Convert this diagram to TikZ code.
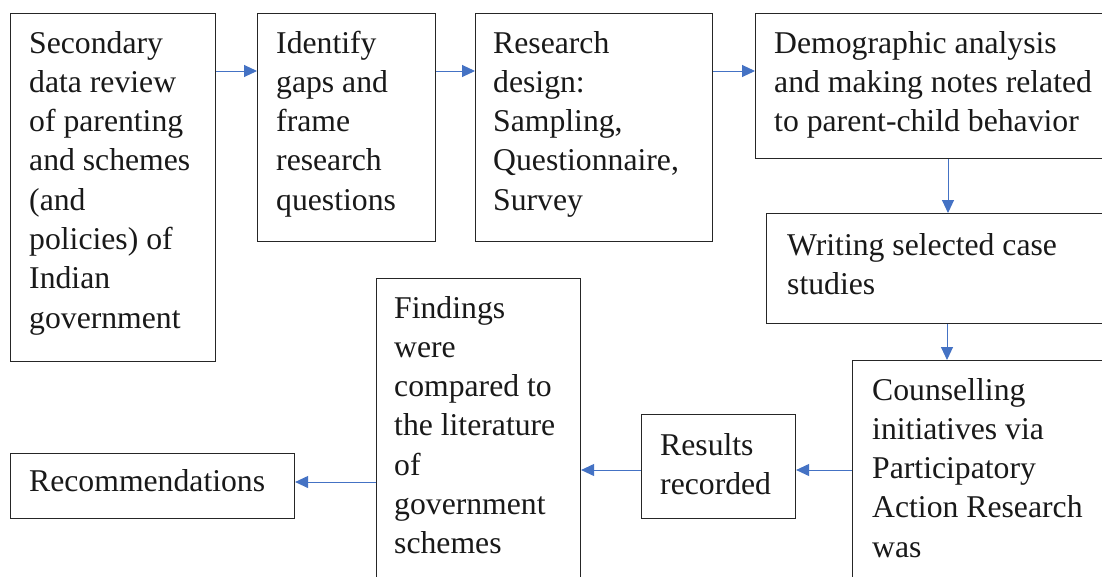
\documentclass[tikz,border=0pt]{standalone}
\usepackage{fontspec}
\IfFontExistsTF{LiberationSerif-Regular.ttf}
  {\setmainfont{LiberationSerif-Regular.ttf}\def\fsz{31.7}}
  {\def\fsz{29.5}}
\usetikzlibrary{arrows.meta}
\definecolor{arrowblue}{HTML}{4472C4}
\newcommand{\boxtext}[1]{\begin{tabular}[t]{@{}l@{}}#1\end{tabular}}
\begin{document}
\begin{tikzpicture}[x=1pt,y=1pt,
  box/.style={draw=black!85, line width=1.1pt, rectangle, inner sep=0pt, anchor=north west},
  txt/.style={anchor=base west, inner sep=0pt, text=black!90, font=\rmfamily\fontsize{\fsz}{39.3}\selectfont},
  arr/.style={draw=arrowblue, line width=1pt, -{Triangle[length=13pt,width=12pt]}}]
\useasboundingbox (0,0) rectangle (1102,-576);
\fill[white] (0,0) rectangle (1102,-576);
\clip (0,0) rectangle (1102,-576);

% boxes
\node[box, minimum width=205, minimum height=348] (b1) at (10,-13) {};
\node[box, minimum width=178, minimum height=228] (b2) at (257,-13) {};
\node[box, minimum width=237, minimum height=228] (b3) at (475,-13) {};
\node[box, minimum width=386, minimum height=145] (b4) at (755,-13) {};
\node[box, minimum width=362, minimum height=110] (b5) at (766,-213) {};
\node[box, minimum width=300, minimum height=260] (b6) at (852,-360) {};
\node[box, minimum width=154, minimum height=104] (b7) at (641,-414) {};
\node[box, minimum width=204, minimum height=330] (b8) at (376,-278) {};
\node[box, minimum width=284, minimum height=65] (b9) at (10,-453) {};

% texts
\node[txt] (t1) at (29,-53) {\boxtext{Secondary\\data review\\of parenting\\and schemes\\(and\\policies) of\\Indian\\government}};
\node[txt] (t2) at (276,-53) {\boxtext{Identify\\gaps and\\frame\\research\\questions}};
\node[txt] (t3) at (493,-53) {\boxtext{Research\\design:\\Sampling,\\Questionnaire,\\Survey}};
\node[txt] (t4) at (774,-53) {\boxtext{Demographic analysis\\and making notes related\\to parent-child behavior}};
\node[txt] (t5) at (787,-255) {\boxtext{Writing selected case\\studies}};
\node[txt] (t6) at (872,-400) {\boxtext{Counselling\\initiatives via\\Participatory\\Action Research\\was}};
\node[txt] (t7) at (660,-455) {\boxtext{Results\\recorded}};
\node[txt] (t8) at (394,-318) {\boxtext{Findings\\were\\compared to\\the literature\\of\\government\\schemes}};
\node[txt] (t9) at (29,-491) {\boxtext{Recommendations}};

% connector levels
\coordinate (r1) at (0,-71);
\coordinate (r2) at (0,-470);
\coordinate (r3) at (0,-482);
\coordinate (c1) at (948,0);
\coordinate (c2) at (947,0);

\draw[arr] (b1.east |- r1) -- (b2.west |- r1);
\draw[arr] (b2.east |- r1) -- (b3.west |- r1);
\draw[arr] (b3.east |- r1) -- (b4.west |- r1);
\draw[arr] (b4.south -| c1) -- (b5.north -| c1);
\draw[arr] (b5.south -| c2) -- (b6.north -| c2);
\draw[arr] (b6.west |- r2) -- (b7.east |- r2);
\draw[arr] (b7.west |- r2) -- (b8.east |- r2);
\draw[arr] (b8.west |- r3) -- (b9.east |- r3);
\end{tikzpicture}
\end{document}
